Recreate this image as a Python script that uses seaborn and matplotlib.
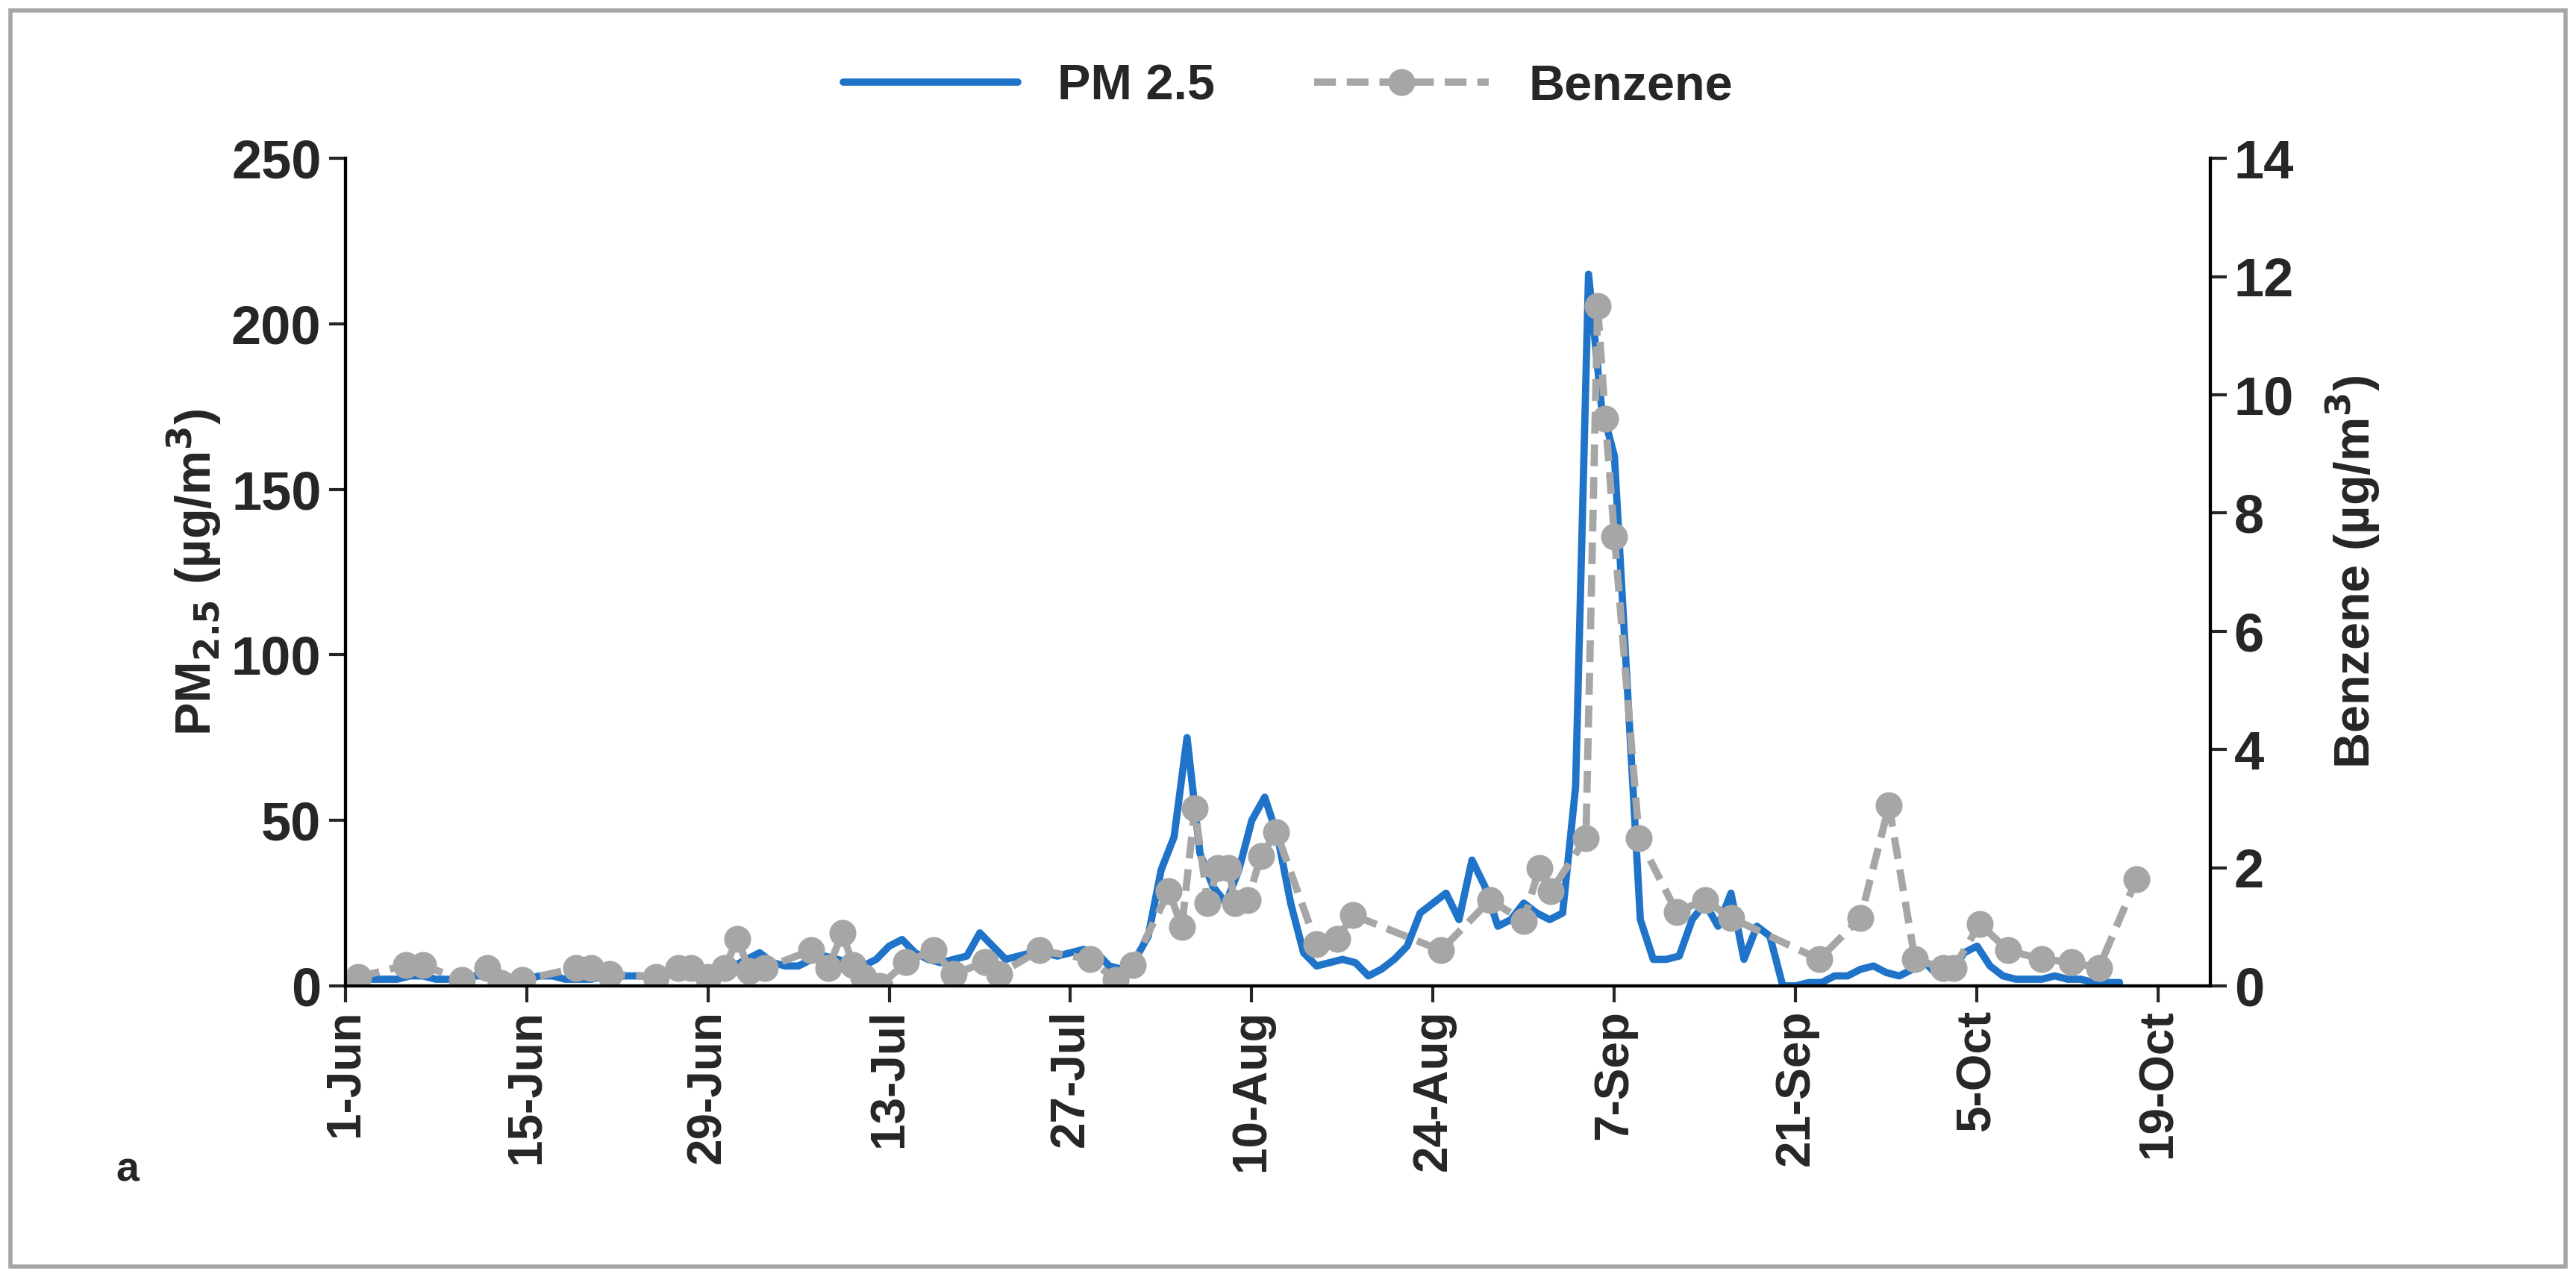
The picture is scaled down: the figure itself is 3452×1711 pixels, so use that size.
import matplotlib
matplotlib.use("Agg")
import matplotlib.pyplot as plt
import seaborn as sns
import numpy as np
import pandas as pd

sns.set_style("white")
plt.rcParams['font.family'] = ['Liberation Sans', 'DejaVu Sans']
plt.rcParams['font.weight'] = 'bold'

pm_values = [3,2,2,2,2,3,3,2,2,2,3,3,2,2,2,3,3,2,2,2,3,3,3,3,3,4,4,4,
             5,5,6,8,10,7,6, 6,8,9,8,7,6,8,12, 14,10,8,7,8,9,16,
             12,8,9,10,10,9,10, 11,10,6,5,8,15,35, 45,75,40,30,25,35,
             50,57,45,25,10,6,7, 8,7,3,5,8,12,22,25, 28,20,38,30,18,20,25,22,
             20,22,60,215, 175,160,90,20,8, 8,9,20,25,18,28,8, 18,15,0,0,
             1,1,3,3,5,6,4,3, 5,7,3,4,10,12,6, 3,2,2,2,3,2,2,1,1,1]
pm_days = list(range(len(pm_values)))

bz_days = [1,4.7,6,9,11,12,13.7,17.8,19,20.4,24,25.7,26.7,28,29.3,30.3,31.2,32.4,36,37.3,
           38.4,39.2,40,41.3,43.3,45.4,47,49.4,50.5,53.6,57.5,59.5,60.8,63.6,64.6,65.6,66.6,
           67.4,68.2,68.7,69.7,70.7,71.9,75,76.6,77.8,84.6,88.4,91,92.2,93.1,95.8,96.7,97.3,
           98,99.9,102.8,105,107,113.8,117,119.2,121.2,123.4,124.2,126.2,128.4,131,133.3,135.4,138.3]
bz_values = [0.15,0.35,0.35,0.1,0.3,0.05,0.1,0.3,0.3,0.2,0.15,0.3,0.3,0.15,0.3,0.8,0.25,0.3,0.6,0.3,
             0.9,0.35,0.15,0.0,0.4,0.6,0.2,0.4,0.2,0.6,0.45,0.1,0.35,1.6,1.0,3.0,1.4,
             2.0,2.0,1.4,1.45,2.2,2.6,0.7,0.8,1.2,0.6,1.45,1.1,2.0,1.6,2.5,11.5,9.6,
             7.6,2.5,1.25,1.45,1.15,0.45,1.15,3.05,0.45,0.3,0.3,1.05,0.6,0.45,0.4,0.3,1.8]

tick_days = [0,14,28,42,56,70,84,98,112,126,140]
tick_labels = ['1-Jun','15-Jun','29-Jun','13-Jul','27-Jul','10-Aug','24-Aug','7-Sep','21-Sep','5-Oct','19-Oct']

fig = plt.figure(figsize=(17.26, 8.555), dpi=200)
ax = fig.add_axes([0.134, 0.228, 0.724, 0.648])
ax2 = ax.twinx()

pm_df = pd.DataFrame({'day': pm_days, 'pm': pm_values})
bz_df = pd.DataFrame({'day': bz_days, 'bz': bz_values})
sns.lineplot(data=pm_df, x='day', y='pm', ax=ax, color='#1f74c9', lw=3.5, label='PM 2.5', legend=False)
sns.lineplot(data=bz_df, x='day', y='bz', ax=ax2, color='#a6a6a6', lw=3.5, ls=(0, (3, 1.5)),
             marker='o', markersize=13, markeredgewidth=0, label='Benzene', legend=False)

ax.set_xlim(0, 144)
ax.set_ylim(0, 250)
ax2.set_ylim(0, 14)
ax.set_yticks(range(0, 251, 50))
ax2.set_yticks(range(0, 15, 2))
ax.set_xticks(tick_days)
ax.set_xticklabels(tick_labels, rotation=90, fontsize=23, fontweight='bold')
for t in ax.get_yticklabels() + ax2.get_yticklabels():
    t.set_fontsize(26); t.set_fontweight('bold')
ax.set_xlabel('')
ax.set_ylabel('PM$_{\\mathbf{2.5}}$ (µg/m$^\\mathbf{3}$)', fontsize=24, fontweight='bold')
ax2.set_ylabel('Benzene (µg/m$^\\mathbf{3}$)', fontsize=24, fontweight='bold', labelpad=14)
for a in (ax, ax2):
    for s in a.spines.values():
        s.set_color('black'); s.set_linewidth(1.5)
    a.spines['top'].set_visible(False)
ax.tick_params(axis='both', direction='out', length=8, width=1.5, left=True, bottom=True)
ax2.tick_params(axis='y', direction='out', length=8, width=1.5, right=True)

h1, l1 = ax.get_legend_handles_labels()
h2, l2 = ax2.get_legend_handles_labels()
fig.legend(h1 + h2, l1 + l2, loc='upper center', bbox_to_anchor=(0.5, 0.985), ncol=2,
           frameon=False, prop={'size': 24, 'weight': 'bold'}, handlelength=3.5)

fig.text(0.045, 0.075, 'a', fontsize=20, fontweight='bold')
fig.add_artist(plt.Rectangle((0.004, 0.008), 0.992, 0.984, transform=fig.transFigure,
                             fill=False, edgecolor='#a6a6a6', lw=2))
fig.savefig('out.png', dpi=200)
